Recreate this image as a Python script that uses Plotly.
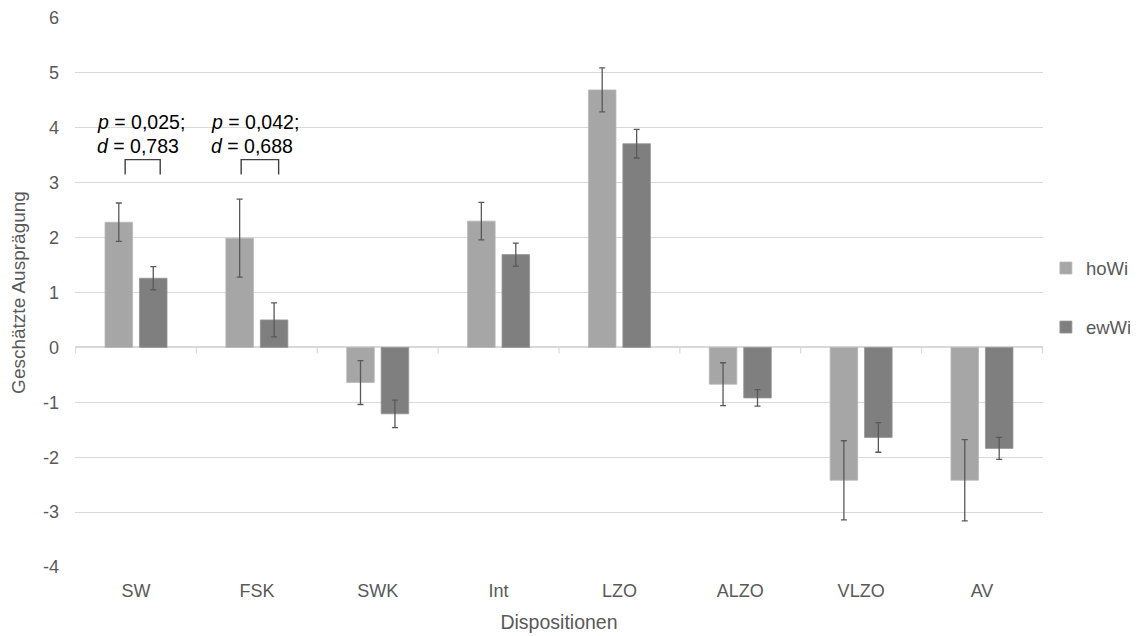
import plotly.graph_objects as go

categories = ["SW", "FSK", "SWK", "Int", "LZO", "ALZO", "VLZO", "AV"]
howi = [2.28, 1.99, -0.64, 2.30, 4.69, -0.67, -2.42, -2.42]
howi_err = [0.35, 0.71, 0.40, 0.34, 0.40, 0.39, 0.72, 0.74]
ewwi = [1.26, 0.50, -1.21, 1.69, 3.71, -0.92, -1.64, -1.84]
ewwi_err = [0.21, 0.31, 0.25, 0.21, 0.26, 0.15, 0.27, 0.20]
y_ticks = [-4, -3, -2, -1, 0, 1, 2, 3, 4, 5, 6]
y_tick_labels = ["-4", "-3", "-2", "-1", "0", "1", "2", "3", "4", "5", "6"]

sig_pairs = [
    {"cat": 0, "p": "0,025", "d": "0,783", "x0": -0.09, "x1": 0.2, "tx": -0.34},
    {"cat": 1, "p": "0,042", "d": "0,688", "x0": -0.13, "x1": 0.18, "tx": -0.395},
]

FONT = "Liberation Sans, Arial, Helvetica, sans-serif"
GRAY_TXT = "#595959"
GRID = "#d9d9d9"

fig = go.Figure()
fig.add_trace(go.Bar(
    name="hoWi", x=categories, y=howi,
    marker=dict(color="#a6a6a6", line=dict(width=0.8, color="#b8b8b8")),
    error_y=dict(type="data", array=howi_err, color="#595959", thickness=1.3, width=3),
    legendgroup="a",
))
fig.add_trace(go.Bar(
    name="ewWi", x=categories, y=ewwi,
    marker=dict(color="#7f7f7f", line=dict(width=0.8, color="#959595")),
    error_y=dict(type="data", array=ewwi_err, color="#595959", thickness=1.3, width=3),
    legendgroup="b",
))

# category boundary ticks on the zero axis line
for i in range(len(categories) + 1):
    fig.add_shape(type="line", xref="x", yref="y", x0=i - 0.5, x1=i - 0.5,
                  y0=0, y1=-0.11, line=dict(color=GRID, width=1.2), layer="below")

# significance brackets and labels
for s in sig_pairs:
    c = s["cat"]
    fig.add_shape(type="path", xref="x", yref="y",
                  path=f"M {c + s['x0']},3.15 L {c + s['x0']},3.42 L {c + s['x1']},3.42 L {c + s['x1']},3.15",
                  line=dict(color="#404040", width=1.4))
    fig.add_annotation(x=c + s["tx"], y=4.1, xref="x", yref="y", xanchor="left", yanchor="middle",
                       text=f"<i>p</i> = {s['p']};", showarrow=False,
                       font=dict(family=FONT, size=19.5, color="#000000"))
    fig.add_annotation(x=c + s["tx"], y=3.67, xref="x", yref="y", xanchor="left", yanchor="middle",
                       text=f"<i>d</i> = {s['d']}", showarrow=False,
                       font=dict(family=FONT, size=19.5, color="#000000"))

# the page body adds an 8px offset, so the figure is sized to fit the window
fig.update_layout(
    width=1130, height=628,
    margin=dict(l=67, r=95, t=10, b=69, autoexpand=False),
    paper_bgcolor="white", plot_bgcolor="white",
    barmode="group", bargap=0.43, bargroupgap=0.2,
    font=dict(family=FONT, size=18, color=GRAY_TXT),
    legend=dict(x=1.003, y=0.49, xanchor="left", yanchor="middle",
                traceorder="grouped", tracegroupgap=32, itemwidth=30,
                font=dict(family=FONT, size=18.5, color=GRAY_TXT)),
    showlegend=True,
)
fig.update_xaxes(
    type="category", showgrid=False, showline=False, ticks="", automargin=False,
    ticklabelstandoff=11,
    tickfont=dict(family=FONT, size=18, color=GRAY_TXT),
    title=dict(text="Dispositionen", font=dict(family=FONT, size=19.5, color=GRAY_TXT), standoff=15),
)
fig.update_yaxes(
    range=[-4, 6], tickvals=y_ticks, ticktext=y_tick_labels,
    showgrid=True, gridcolor=GRID, gridwidth=1,
    zeroline=True, zerolinecolor=GRID, zerolinewidth=1.5, showline=False, ticks="",
    automargin=False, ticklabelstandoff=15,
    tickfont=dict(family=FONT, size=18, color=GRAY_TXT),
    title=dict(text="Geschätzte Ausprägung", font=dict(family=FONT, size=19, color=GRAY_TXT), standoff=12),
)

fig.write_html("out.html")
